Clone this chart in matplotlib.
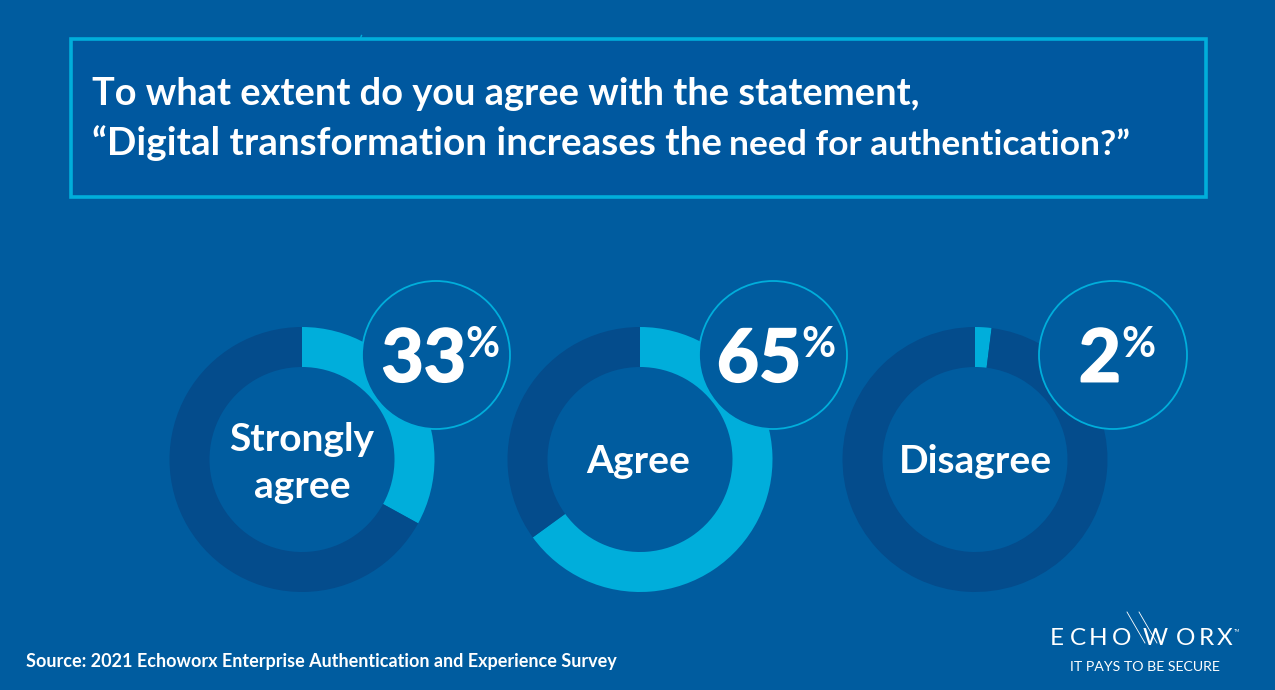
import matplotlib
matplotlib.use("Agg")
import matplotlib.pyplot as plt
import matplotlib.patheffects as pe
from matplotlib.patches import Circle, Rectangle

W, H = 1275, 690

# survey results
categories = [["Strongly", "agree"], ["Agree"], ["Disagree"]]
percent = [33, 65, 2]

BG = "#005c9f"
BOX = "#00589f"
DARK = "#044c8c"
CYAN = "#00aedb"

plt.rcParams["font.family"] = ["Lato", "Open Sans", "DejaVu Sans"]

fig = plt.figure(figsize=(W / 100, H / 100), dpi=100, facecolor=BG)
ax = fig.add_axes([0, 0, 1, 1])


def yy(y):
    # picture pixels run downwards, the axes upwards
    return H - y


# question box
ax.add_patch(Rectangle((71, yy(197)), 1135, 158.5, facecolor=BOX, edgecolor=CYAN, lw=2.6, zorder=1))
ax.plot([360.5, 361.5], [yy(38), yy(35.5)], color=CYAN, lw=1, zorder=1)
ax.text(92, yy(105), "To what extent do you agree with the statement,", color="white",
        fontsize=27.4, fontweight="bold", va="baseline", ha="left")
ax.text(92, yy(155), "“Digital transformation increases the", color="white",
        fontsize=27.85, fontweight="bold", va="baseline", ha="left")
ax.text(729, yy(155), "need for authentication?”", color="white",
        fontsize=25.5, fontweight="bold", va="baseline", ha="left")

# donuts
centers_x = [302, 640, 975]
label_x = [302, 638.5, 975]
badges_x = [436, 773, 1113]
num_right = [466, 801, 1121]
pct_left = [465, 801, 1121]
center_y = 459.5
badge_y = 355
R_OUT = 132.5
R_IN = 92.5
R_BADGE = 74

for i in range(3):
    pct = percent[i]
    cx = centers_x[i]
    bx = badges_x[i]
    ax.pie([pct, 100 - pct], colors=[CYAN, DARK], startangle=90, counterclock=False,
           center=(cx, yy(center_y)), radius=R_OUT,
           wedgeprops=dict(width=R_OUT - R_IN, linewidth=0), frame=True)
    ax.add_patch(Circle((bx, yy(badge_y)), R_BADGE, facecolor=BG, edgecolor=CYAN, lw=1.3, zorder=5))
    num = ax.text(num_right[i], yy(381.5), str(pct), color="white", fontsize=52.5,
                  fontweight="bold", va="baseline", ha="right", zorder=6)
    num.set_path_effects([pe.withStroke(linewidth=1.4, foreground="white")])
    ax.text(pct_left[i], yy(357), "%", color="white", fontsize=30,
            fontweight="bold", va="baseline", ha="left", zorder=6)
    lines = categories[i]
    if len(lines) == 2:
        baselines = [451, 498.5]
    else:
        baselines = [473]
    for line, base in zip(lines, baselines):
        ax.text(label_x[i], yy(base), line, color="white", fontsize=28,
                fontweight="bold", va="baseline", ha="center", zorder=6)

ax.set_xlim(0, W)
ax.set_ylim(0, H)
ax.set_aspect("auto")
ax.axis("off")

# footer
ax.text(26, yy(667), "Source: 2021 Echoworx Enterprise Authentication and Experience Survey", color="white",
        fontsize=12.95, fontweight="bold", va="baseline", ha="left")

# logo
logo_letters = ["E", "C", "H", "O", "W", "O", "R", "X"]
logo_x = [1057, 1077.5, 1098, 1122, 1155, 1186, 1206, 1225]
for ch, lx in zip(logo_letters, logo_x):
    ax.text(lx, yy(645), ch, color="white", fontsize=17.5, fontweight="normal", va="baseline", ha="center")
ax.plot([1127, 1145], [yy(612), yy(643)], color="white", lw=0.6)
ax.plot([1139, 1157], [yy(612), yy(643)], color="white", lw=0.6)
ax.text(1234, yy(631), "TM", color="white", fontsize=3, va="center", ha="left")
ax.text(1144.5, yy(671), "IT PAYS TO BE SECURE", color="white", fontsize=10.2, va="baseline", ha="center")

fig.savefig("out.png", dpi=100, facecolor=BG)
